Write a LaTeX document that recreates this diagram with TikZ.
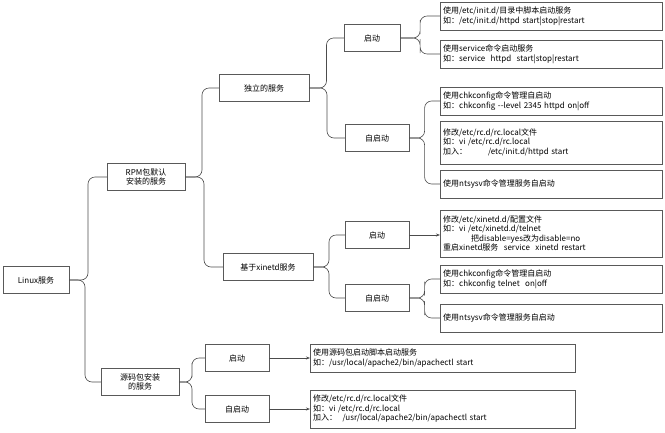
\documentclass[tikz,border=0pt]{standalone}
\usepackage{fontspec}
\setmainfont{Noto Sans CJK SC}
\usetikzlibrary{arrows.meta,calc}
\newcommand\brc[2]{\draw[link,rounded corners=7pt] (#1.east) -| ($(#1.east)!.5!(#2.west)$) |- (#2.west);}
\begin{document}
\begin{tikzpicture}[x=1pt,y=-1pt,>={Stealth[length=4pt]},
    box/.style={draw=black!65,fill=white,font=\fontsize{8}{9.5}\selectfont,inner sep=3pt,minimum height=27pt},
    mid/.style={box,minimum width=#1,align=center},
    rbox/.style={box,anchor=west,text width=#1,align=left,inner sep=3pt},
    link/.style={draw=black!70,semithick}]
\useasboundingbox (0,0) rectangle (665,432);
\node[mid=66pt] (linux) at (36,280) {Linux服务};
\node[mid=78pt] (rpm) at (146,177) {RPM包默认\\安装的服务};
\node[mid=78pt] (src) at (140,382) {源码包安装\\的服务};
\node[mid=90pt] (alone) at (264,88) {独立的服务};
\node[mid=90pt] (xinetd) at (268,267) {基于xinetd服务};
\node[mid=56pt] (astart) at (372,38) {启动};
\node[mid=64pt] (aauto) at (377,138) {自启动};
\node[mid=64pt] (xstart) at (377,235) {启动};
\node[mid=64pt] (xauto) at (377,298) {自启动};
\node[mid=64pt] (sstart) at (237,358) {启动};
\node[mid=64pt] (sauto) at (237,409) {自启动};
\node[rbox=216pt,minimum height=28pt] (b1) at (440,16) {使用/etc/init.d/目录中脚本启动服务\\如：/etc/init.d/httpd start|stop|restart};
\node[rbox=216pt,minimum height=28pt] (b2) at (440,54) {使用service命令启动服务\\如：service\ \ httpd\ \ start|stop|restart};
\node[rbox=216pt,minimum height=28pt] (b3) at (440,101) {使用chkconfig命令管理自启动\\如：chkconfig -{}-level 2345 httpd on|off};
\node[rbox=216pt,minimum height=43pt] (b4) at (440,142.5) {修改/etc/rc.d/rc.local文件\\如：vi /etc/rc.d/rc.local\\加入：\hspace{2.6em}/etc/init.d/httpd start};
\node[rbox=216pt,minimum height=28pt] (b5) at (440,184) {使用ntsysv命令管理服务自启动};
\node[rbox=216pt,minimum height=47pt] (x1) at (440,233.5) {修改/etc/xinetd.d/配置文件\\如：vi /etc/xinetd.d/telnet\\\hspace{3.5em}把disable=yes改为disable=no\\重启xinetd服务\ \ service\ \ xinetd restart};
\node[rbox=216pt,minimum height=28pt] (x2) at (440,279) {使用chkconfig命令管理自启动\\如：chkconfig telnet\ \ on|off};
\node[rbox=216pt,minimum height=28pt] (x3) at (440,318) {使用ntsysv命令管理服务自启动};
\node[rbox=259pt,minimum height=28pt] (s1) at (310,358) {使用源码包启动脚本启动服务\\如：/usr/local/apache2/bin/apachectl start};
\node[rbox=259pt,minimum height=38pt] (s2) at (310,409) {修改/etc/rc.d/rc.local文件\\如：vi /etc/rc.d/rc.local\\加入：\ \ /usr/local/apache2/bin/apachectl start};
% braces
\brc{linux}{rpm} \brc{linux}{src}
\brc{rpm}{alone} \brc{rpm}{xinetd}
\brc{alone}{astart} \brc{alone}{aauto}
\brc{xinetd}{xstart} \brc{xinetd}{xauto}
\brc{astart}{b1} \brc{astart}{b2}
\brc{aauto}{b3} \brc{aauto}{b5}
\brc{xauto}{x2} \brc{xauto}{x3}
\brc{src}{sstart} \brc{src}{sauto}
% arrows
\draw[link,->] (xstart.east) -- (xstart.east -| x1.west);
\draw[link,->] (sstart.east) -- (sstart.east -| s1.west);
\draw[link,->] (sauto.east) -- (sauto.east -| s2.west);
\end{tikzpicture}
\end{document}
